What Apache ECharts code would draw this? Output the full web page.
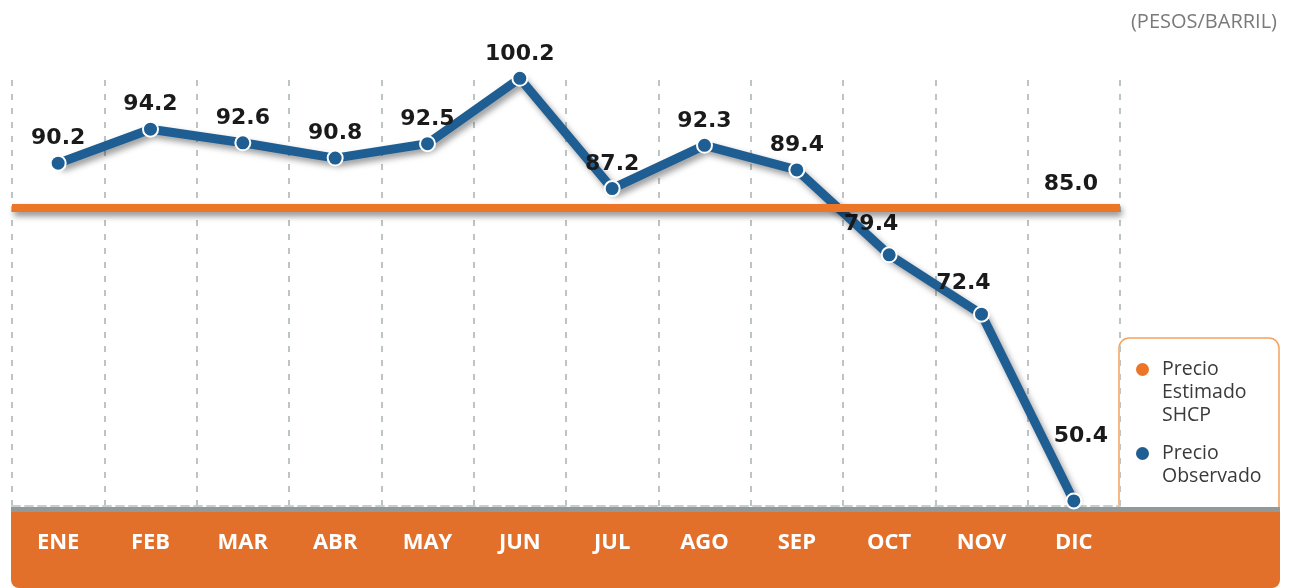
<!DOCTYPE html>
<html>
<head>
<meta charset="utf-8">
<script src="https://cdn.jsdelivr.net/npm/echarts@6/dist/echarts.min.js"></script>
<style>
  html, body { margin: 0; padding: 0; background: #fff; }
  #chart { width: 1290px; height: 588px; }
</style>
</head>
<body>
<div id="chart"></div>
<script>
// datos
const meses = ['ENE', 'FEB', 'MAR', 'ABR', 'MAY', 'JUN', 'JUL', 'AGO', 'SEP', 'OCT', 'NOV', 'DIC'];
const observado = [90.2, 94.2, 92.6, 90.8, 92.5, 100.2, 87.2, 92.3, 89.4, 79.4, 72.4, 50.4];
const estimado = 85.0;
const unidad = '(PESOS/BARRIL)';

const AZUL = '#1f5e93';
const NARANJA = '#ec7527';
const BANDA = '#e2702a';

const chart = echarts.init(document.getElementById('chart'));

// labels on the steep part sit up-left of the points
const puntos = observado.map(function (v, i) {
  const item = { value: v };
  if (i === 9 || i === 10) item.label = { offset: [-18, -6] };
  if (i === 11) item.label = { offset: [7, -40] };
  return item;
});

const legendText = {
  color: '#3a3a3a',
  fontFamily: 'Open Sans',
  fontSize: 19.5,
  lineHeight: 23,
  padding: [0, 0, 0, 7]
};

chart.setOption({
  animation: false,
  title: {
    text: unidad,
    right: 8,
    top: 7,
    textStyle: { color: '#7a7a7a', fontFamily: 'Open Sans', fontSize: 20, fontWeight: 'normal' }
  },
  grid: { left: 12, right: 170, top: 80, bottom: 82 },
  legend: [
    {
      data: ['Precio Estimado SHCP'],
      orient: 'vertical',
      left: 1129,
      top: 307,
      itemWidth: 15,
      itemHeight: 15,
      icon: 'circle',
      selectedMode: false,
      itemStyle: { borderColor: '#fff', borderWidth: 2 },
      // blank lines keep the icon level with the first text line
      formatter: function () { return '\n\nPrecio\nEstimado\nSHCP'; },
      textStyle: legendText
    },
    {
      data: ['Precio Observado'],
      orient: 'vertical',
      left: 1129,
      top: 414,
      itemWidth: 15,
      itemHeight: 15,
      icon: 'circle',
      selectedMode: false,
      itemStyle: { borderColor: '#fff', borderWidth: 2 },
      formatter: function () { return '\nPrecio\nObservado'; },
      textStyle: legendText
    }
  ],
  xAxis: {
    type: 'category',
    data: meses,
    boundaryGap: true,
    z: 2,
    axisLine: { show: true, lineStyle: { color: '#c8cfcf', width: 2, type: [8, 5] } },
    axisTick: { show: false },
    axisLabel: {
      color: '#fff',
      fontFamily: 'Open Sans',
      fontWeight: 'bold',
      fontSize: 22,
      margin: 26
    },
    splitLine: {
      show: true,
      lineStyle: { color: '#bcc4c4', width: 2, type: [6, 8] }
    }
  },
  yAxis: {
    type: 'value',
    min: 49.8,
    max: 100,
    show: false,
    splitLine: { show: false }
  },
  graphic: [
    {
      type: 'rect',
      z: 0,
      shape: { x: 1119, y: 338, width: 160, height: 220, r: 10 },
      style: { fill: '#fff', stroke: '#f3a35f', lineWidth: 1.5 }
    },
    {
      type: 'rect',
      z: 1,
      shape: { x: 11, y: 507, width: 1269, height: 6 },
      style: { fill: '#939999' }
    },
    {
      type: 'rect',
      z: 1,
      shape: { x: 11, y: 512, width: 1269, height: 76, r: [0, 0, 8, 8] },
      style: { fill: BANDA }
    }
  ],
  series: [
    {
      name: 'Precio Estimado SHCP',
      type: 'line',
      data: [],
      z: 3,
      itemStyle: { color: NARANJA, borderColor: '#fff', borderWidth: 2 },
      markLine: {
        silent: true,
        symbol: ['none', 'none'],
        data: [{ yAxis: estimado }],
        lineStyle: {
          color: NARANJA,
          width: 8,
          type: 'solid',
          shadowColor: 'rgba(0,0,0,0.45)',
          shadowBlur: 6,
          shadowOffsetX: 2,
          shadowOffsetY: 4
        },
        label: {
          show: true,
          position: 'insideEndTop',
          distance: [22, 12],
          formatter: function () { return estimado.toFixed(1); },
          color: '#1a1a1a',
          fontFamily: 'DejaVu Sans',
          fontWeight: 'bold',
          fontSize: 22
        }
      }
    },
    {
      name: 'Precio Observado',
      type: 'line',
      data: puntos,
      z: 3,
      clip: false,
      symbol: 'circle',
      symbolSize: 15,
      showAllSymbol: true,
      lineStyle: {
        color: AZUL,
        width: 9,
        shadowColor: 'rgba(0,0,0,0.4)',
        shadowBlur: 6,
        shadowOffsetX: 3,
        shadowOffsetY: 4
      },
      itemStyle: { color: AZUL, borderColor: '#fff', borderWidth: 2 },
      label: {
        show: true,
        position: 'top',
        distance: 5,
        formatter: function (p) { return p.value.toFixed(1); },
        color: '#1a1a1a',
        fontFamily: 'DejaVu Sans',
        fontWeight: 'bold',
        fontSize: 22
      }
    }
  ]
});
</script>
</body>
</html>
